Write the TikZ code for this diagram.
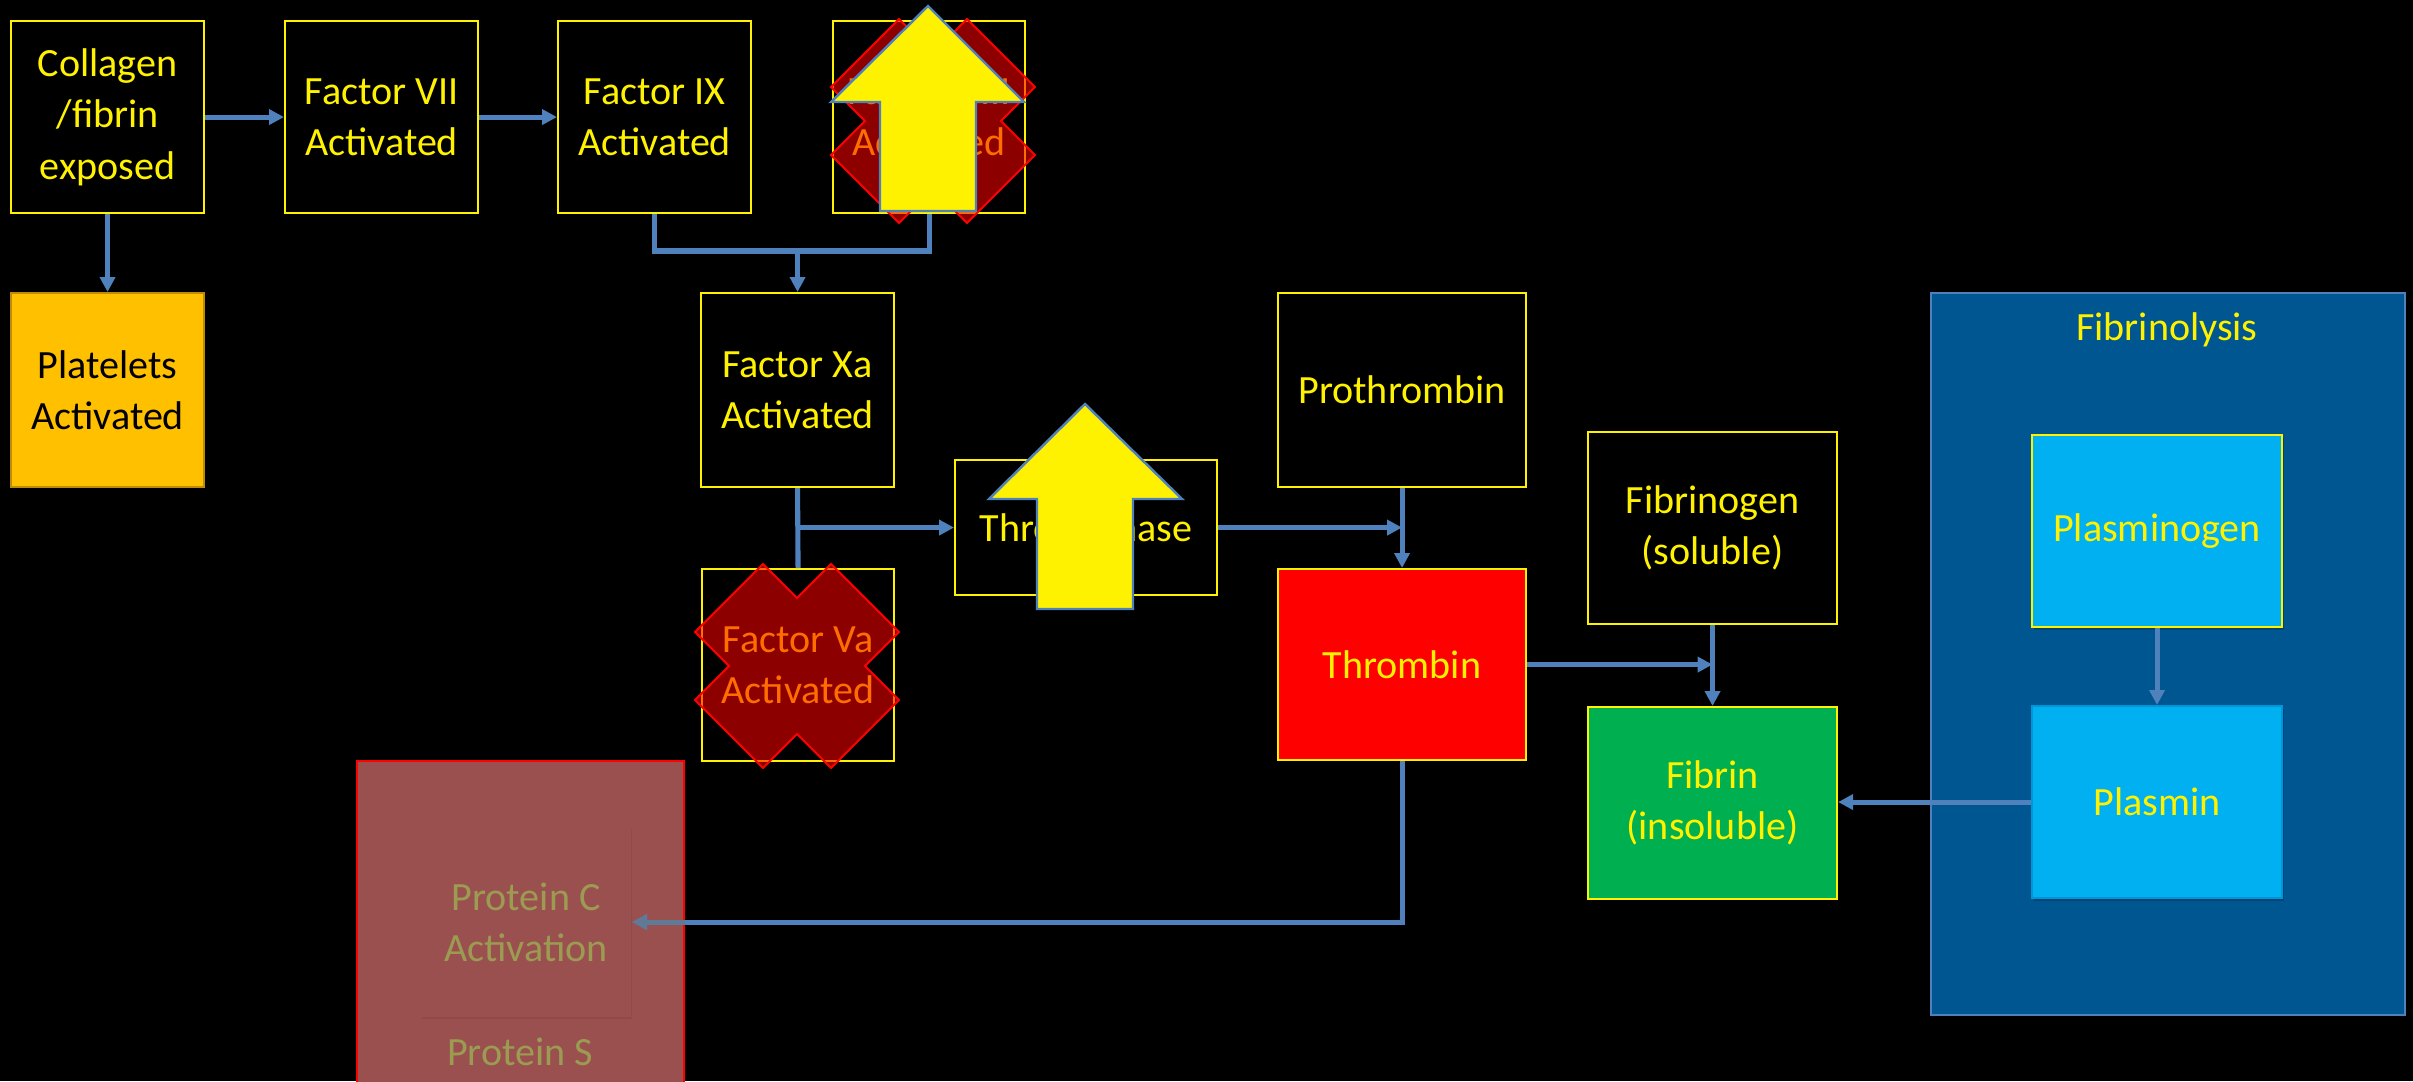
\documentclass[tikz,border=0pt]{standalone}
\usepackage{fontspec}
\setmainfont{Carlito}
\usetikzlibrary{arrows.meta}
\definecolor{steel}{RGB}{79,129,189}
\definecolor{pltorange}{RGB}{255,192,0}
\definecolor{pltborder}{RGB}{190,140,0}
\definecolor{fibgreen}{RGB}{0,176,80}
\definecolor{plcyan}{RGB}{0,176,240}
\definecolor{plcyanborder}{RGB}{0,150,215}
\definecolor{lysisblue}{RGB}{0,86,145}
\definecolor{shadowblue}{RGB}{0,68,118}
\definecolor{psred}{RGB}{155,80,80}
\definecolor{psshadow}{RGB}{145,74,74}
\definecolor{olive}{RGB}{155,155,82}
\definecolor{mutedsteel}{RGB}{95,122,150}
\newcommand\redcross[1]{%
  \draw[crossst, shift={(#1)}] (-34,-102) -- (0,-68) -- (34,-102) -- (102,-34) -- (68,0) -- (102,34) -- (34,102) -- (0,68) -- (-34,102) -- (-102,34) -- (-68,0) -- (-102,-34) -- cycle;}
\begin{document}
\begin{tikzpicture}[x=0.1mm,y=-0.1mm,
  box/.style={draw=yellow, line width=0.6pt, text=yellow, fill=black, inner sep=0pt, align=center, anchor=north west, font=\fontsize{11.4}{14.6}\selectfont},
  lbl/.style={inner sep=0pt, align=center, font=\fontsize{11.4}{14.6}\selectfont},
  arr/.style={draw=steel, line width=1.45pt, -{Triangle[length=1.5mm,width=1.5mm]}},
  ln/.style={draw=steel, line width=1.45pt},
  crossst/.style={fill=red, fill opacity=0.55, draw=red, line width=0.55pt, line join=miter},
  blockarrow/.style={fill=yellow, draw=steel, line width=0.7pt, line join=miter},
]
\fill[black] (0,0) rectangle (2413,1081);
\useasboundingbox (0,0) rectangle (2413,1081);
\clip (0,0) rectangle (2413,1081);

% containers
\node[draw=steel, line width=0.5pt, fill=lysisblue, anchor=north west, inner sep=0pt, minimum width=47.4mm, minimum height=72.2mm] (lysis) at (1930,292) {};
\node[lbl, text=yellow] (lysislbl) at (2167,330) {Fibrinolysis};

% top row
\node[box, minimum width=19.3mm, minimum height=19.2mm] (collagen) at (10,20) {Collagen\\/fibrin\\exposed};
\node[box, minimum width=19.3mm, minimum height=19.2mm] (f7) at (284,20) {Factor VII\\Activated};
\node[box, minimum width=19.3mm, minimum height=19.2mm] (f9) at (557,20) {Factor IX\\Activated};
\node[box, minimum width=19.2mm, minimum height=19.2mm] (f8) at (832,20) {Factor VIII\\Activated};

% second row
\node[box, draw=pltborder, fill=pltorange, text=black, minimum width=19.3mm, minimum height=19.4mm] (plt) at (10,292) {Platelets\\Activated};
\node[box, minimum width=19.3mm, minimum height=19.4mm] (xa) at (700,292) {Factor Xa\\Activated};
\node[box, minimum width=24.8mm, minimum height=19.4mm] (pro) at (1277,292) {Prothrombin};
\node[box, minimum width=26.2mm, minimum height=13.5mm] (tb) at (954,459) {Thrombinase};
\node[box, minimum width=24.9mm, minimum height=19.2mm] (fgn) at (1587,431) {Fibrinogen\\(soluble)};
\node[box, minimum width=19.2mm, minimum height=19.2mm] (va) at (701,568) {Factor Va\\Activated};
\node[box, fill=red, minimum width=24.8mm, minimum height=19.1mm] (thr) at (1277,568) {Thrombin};
\node[box, fill=fibgreen, minimum width=24.9mm, minimum height=19.2mm] (fib) at (1587,706) {Fibrin\\(insoluble)};

% fibrinolysis boxes
\fill[shadowblue] (2034,438) rectangle (2284,630);
\node[box, fill=plcyan, minimum width=25.0mm, minimum height=19.2mm] (plg) at (2031,434) {Plasminogen};
\fill[shadowblue] (2034,709) rectangle (2284,901);
\node[box, draw=plcyanborder, fill=plcyan, minimum width=25.0mm, minimum height=19.2mm] (pls) at (2031,705) {Plasmin};

% protein S container
\node[draw=red, line width=0.6pt, fill=psred, anchor=north west, inner sep=0pt, minimum width=32.7mm, minimum height=33mm] (ps) at (356,760) {};
\fill[psshadow] (422,829) rectangle (632,1019);
\node[box, draw=none, fill=psred, text=olive, minimum width=21.0mm, minimum height=19.0mm] (pc) at (420,826) {Protein C\\Activation};
\node[lbl, text=olive] (pslbl) at (520,1052) {Protein S};

% connectors
\draw[arr] (collagen.east) -- (f7.west);
\draw[arr] (f7.east) -- (f9.west);
\draw[arr] (collagen.south) -- (plt.north);
\coordinate (j1) at (xa.north |- 0,251);
\draw[ln] (f9.south) |- (j1) -| (f8.south);
\draw[arr] (j1) -- (xa.north);
\draw[ln] (xa.south) -- (va.north);
\coordinate (j2) at (xa.south |- tb.west);
\draw[arr] (j2) -- (tb.west);
\coordinate (j3) at (pro.south |- tb.east);
\draw[arr] (tb.east) -- (j3);
\draw[arr] (pro.south) -- (thr.north);
\coordinate (j4) at (fgn.south |- thr.east);
\draw[arr] (thr.east) -- (j4);
\draw[arr] (fgn.south) -- (fib.north);
\draw[arr] (plg.south) -- (pls.north);
\draw[arr] (pls.west) -- (pls.west -| fib.east);
\draw[arr] (thr.south) |- (pc.east);
\draw[arr, draw=mutedsteel] (ps.east |- pc.east) -- (pc.east);

% red crosses
\redcross{933,121}
\redcross{797,666}

% yellow block arrows
\draw[blockarrow] (928,6) -- (1024,102) -- (976,102) -- (976,211) -- (880,211) -- (880,102) -- (831,102) -- cycle;
\draw[blockarrow] (1085,404) -- (1182,499) -- (1133,499) -- (1133,609) -- (1037,609) -- (1037,499) -- (989,499) -- cycle;
\end{tikzpicture}
\end{document}
